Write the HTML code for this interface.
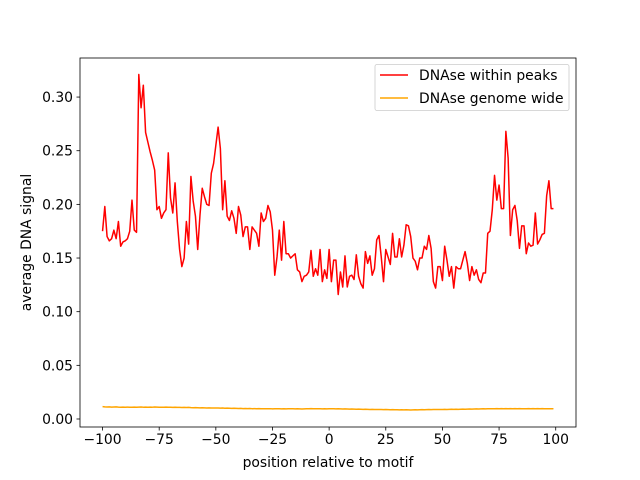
<!DOCTYPE html>
<html><head><meta charset="utf-8"><style>
body{margin:0;background:#fff;}
svg{display:block;font-family:"DejaVu Sans","Liberation Sans",sans-serif;}
</style></head><body>
<svg id="chart" width="640" height="480"></svg>
<script>
const xStart = -100;
const peaks = [0.175,0.198,0.170,0.166,0.168,0.176,0.168,0.184,0.161,0.165,0.166,0.168,0.175,0.204,0.176,0.174,0.321,0.290,0.311,0.267,0.258,0.249,0.241,0.232,0.195,0.198,0.187,0.192,0.195,0.248,0.206,0.192,0.220,0.184,0.158,0.142,0.150,0.184,0.163,0.226,0.203,0.189,0.158,0.190,0.215,0.207,0.200,0.199,0.229,0.238,0.255,0.272,0.252,0.195,0.222,0.189,0.185,0.194,0.187,0.173,0.198,0.190,0.170,0.179,0.179,0.158,0.179,0.176,
0.173,0.161,0.192,0.184,0.187,0.199,0.193,0.176,0.134,0.151,0.176,0.148,0.184,0.154,0.154,0.150,0.152,0.154,0.139,0.137,0.128,0.133,0.134,0.137,0.157,0.133,0.140,0.134,0.158,0.128,0.139,0.131,0.158,0.128,0.148,0.148,0.116,0.137,0.123,0.152,0.123,0.133,0.134,0.130,0.153,0.133,0.126,0.122,0.156,0.145,0.152,0.134,0.140,0.167,0.171,0.151,0.128,0.158,0.151,0.144,0.173,0.151,0.151,0.168,0.151,0.162,0.181,
0.180,0.170,0.150,0.147,0.139,0.150,0.150,0.161,0.158,0.171,0.159,0.128,0.122,0.142,0.142,0.129,0.161,0.148,0.133,0.142,0.122,0.142,0.140,0.140,0.148,0.156,0.145,0.129,0.142,0.134,0.139,0.130,0.127,0.136,0.136,0.173,0.175,0.195,0.227,0.204,0.218,0.196,0.196,0.268,0.243,0.171,0.195,0.199,0.185,0.159,0.180,0.180,0.154,0.164,0.161,0.162,0.192,0.163,0.167,0.172,0.173,0.208,0.222,0.196,0.196];
const genome = [0.0115,0.0113,0.0112,0.0113,0.0111,0.0112,0.0113,0.0111,0.0110,0.0111,
0.0110,0.0111,0.0109,0.0110,0.0111,0.0110,0.0111,0.0112,0.0110,0.0111,
0.0110,0.0111,0.0110,0.0112,0.0111,0.0110,0.0109,0.0110,0.0111,0.0110,
0.0109,0.0108,0.0109,0.0108,0.0108,0.0107,0.0108,0.0107,0.0108,0.0106,
0.0105,0.0106,0.0105,0.0104,0.0105,0.0104,0.0103,0.0104,0.0103,0.0102,
0.0103,0.0102,0.0101,0.0102,0.0100,0.0101,0.0100,0.0099,0.0100,0.0099,
0.0098,0.0099,0.0097,0.0098,0.0097,0.0098,0.0096,0.0097,0.0096,0.0097,
0.0096,0.0095,0.0096,0.0095,0.0096,0.0094,0.0095,0.0096,0.0095,0.0094,
0.0095,0.0094,0.0095,0.0096,0.0095,0.0094,0.0095,0.0094,0.0093,0.0094,
0.0095,0.0096,0.0097,0.0096,0.0095,0.0096,0.0095,0.0094,0.0095,0.0094,
0.0095,0.0096,0.0095,0.0094,0.0095,0.0094,0.0093,0.0094,0.0093,0.0092,
0.0093,0.0092,0.0091,0.0092,0.0091,0.0090,0.0091,0.0090,0.0089,0.0090,
0.0089,0.0088,0.0089,0.0088,0.0087,0.0088,0.0087,0.0086,0.0087,0.0086,
0.0086,0.0085,0.0086,0.0085,0.0086,0.0085,0.0084,0.0085,0.0086,0.0085,
0.0086,0.0087,0.0086,0.0087,0.0088,0.0087,0.0088,0.0089,0.0088,0.0089,
0.0089,0.0090,0.0089,0.0090,0.0091,0.0090,0.0091,0.0090,0.0091,0.0092,
0.0091,0.0092,0.0093,0.0092,0.0093,0.0094,0.0093,0.0094,0.0095,0.0094,
0.0095,0.0096,0.0095,0.0096,0.0097,0.0096,0.0097,0.0096,0.0097,0.0096,
0.0097,0.0096,0.0097,0.0096,0.0097,0.0096,0.0095,0.0096,0.0097,0.0096,
0.0097,0.0096,0.0097,0.0096,0.0097,0.0096,0.0095,0.0096,0.0096,0.0095];
const xTicks = [-100,-75,-50,-25,0,25,50,75,100];
const yTicks = [0.00,0.05,0.10,0.15,0.20,0.25,0.30];

const L=80,R=576,T=58,B=427;
const xMin=-109.95,xMax=108.95,yMin=-0.00746,yMax=0.3364;
const sx=v=>L+(v-xMin)/(xMax-xMin)*(R-L);
const sy=v=>B-(v-yMin)/(yMax-yMin)*(B-T);
const svg=document.getElementById('chart');
const NS='http://www.w3.org/2000/svg';
function mk(tag,attrs,parent){const e=document.createElementNS(NS,tag);for(const k in attrs)e.setAttribute(k,attrs[k]);(parent||svg).appendChild(e);return e;}

function line(arr,color,name){
  const d=arr.map((v,i)=>(i?'L':'M')+sx(xStart+i).toFixed(2)+','+sy(v).toFixed(2)).join('');
  const p=mk('path',{d:d,fill:'none',stroke:color,'stroke-width':1.5,'stroke-linejoin':'round'});
  
  
}
line(peaks,'#ff0000','series-dnase-within-peaks');
line(genome,'#ffa500','series-dnase-genome-wide');

const frame=mk('rect',{x:L,y:T,width:R-L,height:B-T,fill:'none',stroke:'#000','stroke-width':0.8});



xTicks.forEach(t=>{
  const x=sx(t);
  const tk=mk('line',{x1:x,x2:x,y1:B,y2:B+3.5,stroke:'#000','stroke-width':0.8});
  
  
  const tx=mk('text',{x:x,y:B+17,'text-anchor':'middle','font-size':13.9,fill:'#000'});
  tx.textContent=String(t).replace('-','\u2212');
  
  
});
yTicks.forEach(t=>{
  const y=sy(t);
  const tk=mk('line',{x1:L-3.5,x2:L,y1:y,y2:y,stroke:'#000','stroke-width':0.8});
  
  
  const tx=mk('text',{x:L-7,y:y+5,'text-anchor':'end','font-size':13.9,fill:'#000'});
  tx.textContent=t.toFixed(2);
  
  
});
const xl=mk('text',{x:(L+R)/2,y:467,'text-anchor':'middle','font-size':13.9,fill:'#000'});
xl.textContent='position relative to motif';


const yl=mk('text',{x:0,y:0,'text-anchor':'middle','font-size':13.9,fill:'#000',transform:'translate(31,'+((T+B)/2)+') rotate(-90)'});
yl.textContent='average DNA signal';



const lg=mk('g',{});


mk('rect',{x:375,y:64.5,width:194,height:46,rx:2,fill:'#fff',stroke:'#ccc','stroke-width':0.8},lg);
[['DNAse within peaks','#ff0000',75],['DNAse genome wide','#ffa500',98]].forEach(([lab,c,y])=>{
  const en=mk('g',{},lg);
  
  
  mk('line',{x1:380,x2:408,y1:y,y2:y,stroke:c,'stroke-width':1.5},en);
  const t=mk('text',{x:419,y:y+5,'font-size':13.9,fill:'#000'},en);
  t.textContent=lab;
});
</script>
</body></html>
